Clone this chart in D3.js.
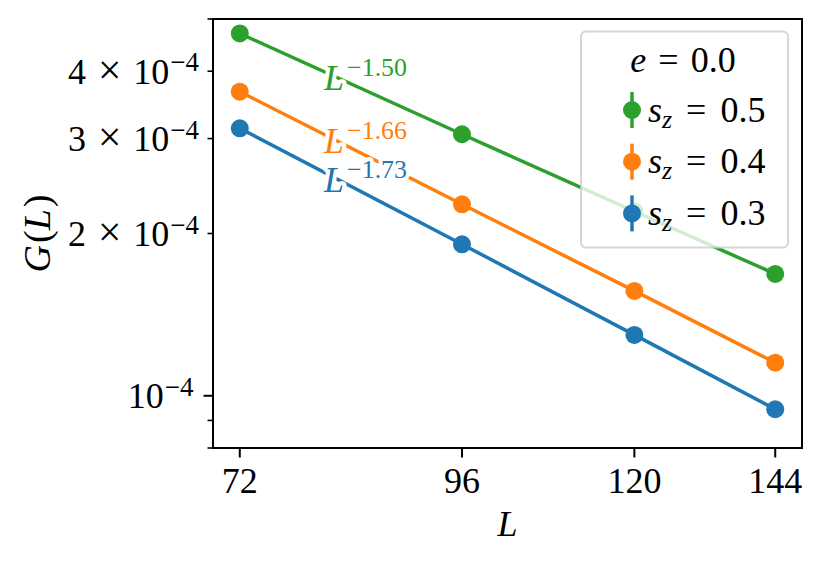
<!DOCTYPE html>
<html>
<head>
<meta charset="utf-8">
<script src="https://cdn.jsdelivr.net/npm/d3@7"></script>
<style>
  body { margin: 0; background: white; }
  text { font-family: "Liberation Serif", "DejaVu Serif", serif; }
</style>
</head>
<body>
<div id="main"></div>
<script>
// data
const sizes = [72, 96, 120, 144];
const szValues = ["0.5", "0.4", "0.3"];
const gSz05 = [4.70e-4, 3.056e-4, 2.198e-4, 1.683e-4];
const gSz04 = [3.666e-4, 2.266e-4, 1.565e-4, 1.152e-4];
const gSz03 = [3.135e-4, 1.910e-4, 1.297e-4, 0.944e-4];
const seriesColors = ["#2ca02c", "#ff7f0e", "#1f77b4"];
const exponents = ["1.50", "1.66", "1.73"];
const expLabelL = [80.3, 80.3, 80.3];
const expLabelG = [3.69e-4, 2.82e-4, 2.39e-4];
const xTicks = [72, 96, 120, 144];
const yLimits = [8e-5, 5e-4];
const yMajorTicks = [1e-4];
const yMinorTicks = [8e-5, 9e-5, 2e-4, 3e-4, 4e-4, 5e-4];
const yLabelTicks = [1e-4, 2e-4, 3e-4, 4e-4];
const yLabelMantissa = ["", "2", "3", "4"];

const ctx = {
    width: 830,
    height: 562,
    left: 213,
    right: 802,
    top: 19,
    bottom: 448,
    fontSize: 36
};

const series = [gSz05, gSz04, gSz03];

function createViz(){
    let svg = d3.select("#main").append("svg")
        .attr("width", ctx.width)
        .attr("height", ctx.height);

    // matplotlib style 5% margins on a log axis
    let lx0 = Math.log(d3.min(sizes)), lx1 = Math.log(d3.max(sizes));
    let m = (lx1 - lx0) * 0.05;
    let x = d3.scaleLog()
        .domain([Math.exp(lx0 - m), Math.exp(lx1 + m)])
        .range([ctx.left, ctx.right]);
    let y = d3.scaleLog()
        .domain(yLimits)
        .range([ctx.bottom, ctx.top]);

    let plotG = svg.append("g").attr("id", "plotG");
    let line = d3.line().x((d, i) => x(sizes[i])).y(d => y(d));

    series.forEach((vals, k) => {
        plotG.append("path")
            .attr("d", line(vals))
            .attr("fill", "none")
            .attr("stroke", seriesColors[k])
            .attr("stroke-width", 3.5);
        plotG.selectAll(null)
            .data(vals)
            .enter()
            .append("circle")
            .attr("cx", (d, i) => x(sizes[i]))
            .attr("cy", d => y(d))
            .attr("r", 9)
            .attr("fill", seriesColors[k]);
    });

    // power law labels with a white halo
    let annG = svg.append("g").attr("id", "annG");
    exponents.forEach((e, k) => {
        let t = annG.append("text")
            .attr("x", x(expLabelL[k]))
            .attr("y", y(expLabelG[k]))
            .attr("fill", seriesColors[k])
            .attr("stroke", "white")
            .attr("stroke-width", 8)
            .attr("stroke-linejoin", "round")
            .attr("paint-order", "stroke")
            .attr("font-size", ctx.fontSize);
        t.append("tspan").attr("font-style", "italic").text("L");
        t.append("tspan")
            .attr("font-size", ctx.fontSize * 0.72)
            .attr("dy", -14)
            .attr("dx", 3)
            .text("\u2212" + e);
    });

    drawAxes(svg, x, y);
    drawLegend(svg);
}

function drawAxes(svg, x, y){
    let axG = svg.append("g").attr("id", "axesG");

    // x ticks
    xTicks.forEach(v => {
        axG.append("line")
            .attr("x1", x(v)).attr("x2", x(v))
            .attr("y1", ctx.bottom).attr("y2", ctx.bottom + 9.5)
            .attr("stroke", "black").attr("stroke-width", 2);
        axG.append("text")
            .attr("x", x(v))
            .attr("y", ctx.bottom + 45)
            .attr("text-anchor", "middle")
            .attr("font-size", ctx.fontSize)
            .text(v);
    });

    // y ticks
    yMajorTicks.forEach(v => {
        axG.append("line")
            .attr("x1", ctx.left - 9.5).attr("x2", ctx.left)
            .attr("y1", y(v)).attr("y2", y(v))
            .attr("stroke", "black").attr("stroke-width", 2);
    });
    yMinorTicks.forEach(v => {
        axG.append("line")
            .attr("x1", ctx.left - 5.5).attr("x2", ctx.left)
            .attr("y1", y(v)).attr("y2", y(v))
            .attr("stroke", "black").attr("stroke-width", 1.6);
    });
    yLabelTicks.forEach((v, i) => {
        let major = yMajorTicks.includes(v);
        let t = axG.append("text")
            .attr("x", ctx.left - (major ? 19.5 : 14))
            .attr("y", y(v) + 12.6)
            .attr("text-anchor", "end")
            .attr("font-size", ctx.fontSize);
        if (yLabelMantissa[i] !== "") {
            t.append("tspan").text(yLabelMantissa[i]);
            t.append("tspan").attr("dx", 12).attr("font-size", ctx.fontSize * 1.15).text("\u00d7");
            t.append("tspan").attr("dx", 12).text("10");
        } else {
            t.append("tspan").text("10");
        }
        t.append("tspan")
            .attr("font-size", ctx.fontSize * 0.75)
            .attr("dy", -12.6)
            .attr("dx", 1)
            .text("\u22124");
    });

    // frame
    axG.append("rect")
        .attr("x", ctx.left).attr("y", ctx.top)
        .attr("width", ctx.right - ctx.left)
        .attr("height", ctx.bottom - ctx.top)
        .attr("fill", "none")
        .attr("stroke", "black")
        .attr("stroke-width", 2);

    // axis labels
    axG.append("text")
        .attr("x", (ctx.left + ctx.right) / 2)
        .attr("y", 536)
        .attr("text-anchor", "middle")
        .attr("font-size", ctx.fontSize)
        .attr("font-style", "italic")
        .text("L");

    let yl = axG.append("text")
        .attr("transform", "translate(50," + ((ctx.top + ctx.bottom) / 2) + ") rotate(-90)")
        .attr("text-anchor", "middle")
        .attr("font-size", ctx.fontSize + 2);
    yl.append("tspan").attr("font-style", "italic").text("G");
    yl.append("tspan").attr("dx", 2).text("(");
    yl.append("tspan").attr("font-style", "italic").text("L");
    yl.append("tspan").attr("dx", 2).text(")");
}

function drawLegend(svg){
    let lg = svg.append("g").attr("id", "legendG");
    lg.append("rect")
        .attr("x", 581).attr("y", 31.5)
        .attr("width", 207).attr("height", 216)
        .attr("rx", 5).attr("ry", 5)
        .attr("fill", "white").attr("fill-opacity", 0.8)
        .attr("stroke", "#cccccc").attr("stroke-opacity", 0.8)
        .attr("stroke-width", 2);

    let title = lg.append("text")
        .attr("x", 683).attr("y", 71.7)
        .attr("text-anchor", "middle")
        .attr("font-size", ctx.fontSize);
    title.append("tspan").attr("font-style", "italic").text("e");
    title.append("tspan").attr("dx", 12).text("=");
    title.append("tspan").attr("dx", 12).text("0.0");

    szValues.forEach((s, k) => {
        let cy = 110 + k * 51.7;
        lg.append("line")
            .attr("x1", 632).attr("x2", 632)
            .attr("y1", cy - 18).attr("y2", cy + 18)
            .attr("stroke", seriesColors[k]).attr("stroke-width", 3.5);
        lg.append("circle")
            .attr("cx", 632).attr("cy", cy).attr("r", 9)
            .attr("fill", seriesColors[k]);
        let t = lg.append("text")
            .attr("x", 648).attr("y", cy + 11.7)
            .attr("font-size", ctx.fontSize);
        t.append("tspan").attr("font-style", "italic").text("s");
        t.append("tspan").attr("font-style", "italic")
            .attr("font-size", ctx.fontSize * 0.72)
            .attr("dy", 6).text("z");
        t.append("tspan").attr("dy", -6).attr("dx", 14).text("=");
        t.append("tspan").attr("dx", 14).text(s);
    });
}

createViz();
</script>
</body>
</html>
